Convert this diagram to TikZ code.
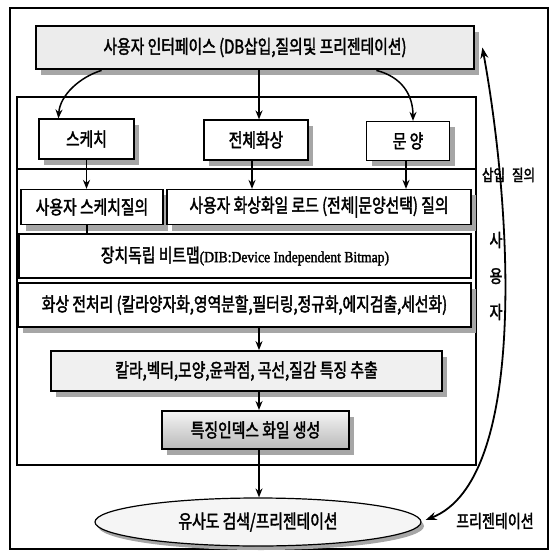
\documentclass[tikz,border=0pt]{standalone}
\usepackage{fontspec}
\newfontfamily\cjk[FakeStretch=0.78,FakeBold=2]{Noto Sans CJK KR}
\newfontfamily\lserif[FakeStretch=0.88,FakeBold=1.8]{Liberation Serif}
\usetikzlibrary{arrows.meta,shadows,shapes.geometric}
\begin{document}
\begin{tikzpicture}[x=1pt,y=-1pt,
  frame/.style={line width=1.2pt},
  bx/.style={draw, line width=1.2pt, fill=white, inner sep=0pt,
    font=\cjk\fontsize{19}{21}\selectfont},
  shad/.style={drop shadow={shadow xshift=5pt,shadow yshift=-6pt,fill=gray!70,opacity=1}},
  arr/.style={line width=1.5pt,-{Stealth[length=9pt,width=7pt]}},
  lbl/.style={font=\cjk\fontsize{18}{20}\selectfont, inner sep=0pt}]
\useasboundingbox (0,0) rectangle (556,553);
% outer frame
\draw[frame] (10,8) rectangle (548,549);
% inner frame
\draw[frame] (17,97) rectangle (476,465);
\draw[frame] (17,169) -- (476,169);
\coordinate (ax) at (259,0);
% top box
\node[bx, shad, line width=2.8pt, fill=gray!15, minimum width=438pt, minimum height=43pt] (top) at (255,47.5)
  {사용자 인터페이스 (DB삽입,질의및 프리젠테이션)\hspace{26pt}};
% band boxes
\node[bx, shad, minimum width=95pt, minimum height=40pt] (sk) at (86.5,139) {스케치};
\node[bx, shad, minimum width=104pt, minimum height=40pt] (wh) at (256,140) {전체화상};
\node[bx, shad, minimum width=83pt, minimum height=39pt] (mu) at (408,141) {문 양};
% row 2
\node[bx, shad, minimum width=142pt, minimum height=35pt] (q1) at (92,207) {사용자 스케치질의};
\node[bx, shad, minimum width=304pt, minimum height=35pt] (q2) at (319,207) {사용자 화상화일 로드 (전체|문양선택) 질의};
% row 3
\node[bx, minimum width=452pt, minimum height=44pt] (dib) at (245,256)
  {장치독립 비트맵{\lserif\fontsize{15.5}{17}\selectfont(DIB:Device Independent Bitmap)}};
% row 4
\node[bx, shad, minimum width=453pt, minimum height=44pt] (pre) at (244.5,305)
  {화상 전처리 (칼라양자화,영역분할,필터링,정규화,에지검출,세선화)};
% row 5
\node[bx, shad, line width=1.8pt, fill=gray!12, minimum width=391pt, minimum height=40pt] (feat) at (246.5,371)
  {칼라,벡터,모양,윤곽점, 곡선,질감 특징 추출};
% row 6
\node[bx, shad, line width=2pt, top color=gray!8, bottom color=gray!55, minimum width=187pt, minimum height=38pt] (idx) at (255.5,430)
  {특징인덱스 화일 생성};
% ellipse
\node[bx, ellipse, fill=gray!8, minimum width=326pt, minimum height=48pt,
  drop shadow={shadow xshift=3pt,shadow yshift=-4pt,fill=gray!70,opacity=1}] (sim) at (258,522)
  {유사도 검색/프리젠테이션};
% arrows from top box
\draw[arr] ([xshift=67pt]top.south west) .. controls (80,77) and (60,95) .. ([xshift=20pt]sk.north west);
\draw[arr] (top.south -| ax) -- (wh.north -| ax);
\draw[arr] ([xshift=-99pt]top.south east) .. controls (402,77) and (413,95) .. ([xshift=5pt]mu.north);
% band to row 2
\draw[arr] (sk.south) -- (sk.south |- q1.north);
\draw[arr] ([xshift=-4pt]wh.south) -- ([xshift=-4pt]wh.south |- q2.north);
\draw[arr] ([xshift=-2pt]mu.south) -- ([xshift=-2pt]mu.south |- q2.north);
\draw[line width=1.2pt] ([xshift=-5pt]q1.south) -- ([xshift=-5pt]q1.south |- dib.north);
% column arrows
\draw[arr] (pre.south -| ax) -- (feat.north -| ax);
\draw[arr] (feat.south -| ax) -- (idx.north -| ax);
\draw[arr] (idx.south -| ax) -- (sim.north -| ax);
% user loop
\draw[line width=1.8pt,{Stealth[length=11pt,width=8pt]}-{Stealth[length=11pt,width=8pt]}]
  ([xshift=7pt]top.east) .. controls (512,210) and (528,480) .. ([xshift=4pt,yshift=2pt]sim.east);
\node[lbl, font=\cjk\fontsize{16}{18}\selectfont] (ins) at (508.5,175) {삽입\hspace{7pt}질의};
\node[lbl, align=center] (usr) at (496,276) {사\\[16pt]용\\[16pt]자};
\node[lbl] (pres) at (495,521) {프리젠테이션};
\end{tikzpicture}
\end{document}
